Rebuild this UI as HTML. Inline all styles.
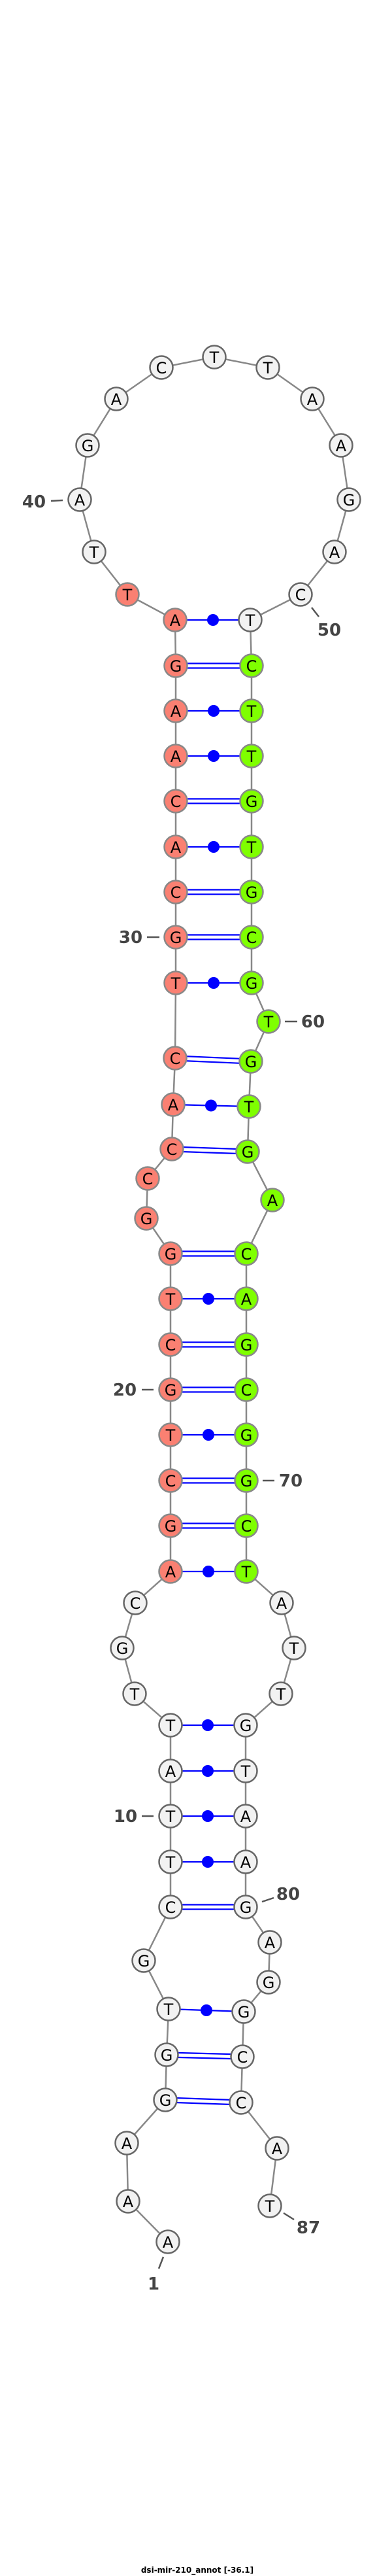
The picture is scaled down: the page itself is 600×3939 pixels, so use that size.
<!DOCTYPE html>
<html><head><meta charset="utf-8"><style>
html,body{margin:0;padding:0;background:#fff}
svg{display:block}
.n{font-family:"DejaVu Sans","Liberation Sans",sans-serif;font-size:24px;text-anchor:middle;fill:#000}
.l{font-family:"DejaVu Sans","Liberation Sans",sans-serif;font-size:26px;font-weight:bold;fill:#444;text-anchor:middle}
</style></head><body>
<svg width="600" height="3939" viewBox="0 0 600 3939" xmlns="http://www.w3.org/2000/svg">
<polyline fill="none" stroke="#888" stroke-width="2.5" points="257,3428 196,3366 194,3277 253,3211 255,3142 258,3072 220,2998 261,2916 261,2847 261,2777 261,2708 261,2638 206,2590 187,2520 207,2451 261,2403 261,2333 261,2264 261,2194 261,2125 261,2056 261,1986 261,1917 224,1863 226,1802 263,1757 265,1689 268,1618 269,1503 269,1433 269,1364 269,1295 269,1225 269,1156 269,1087 269,1018 268,948 195,909 144,844 122,764 134,681 178,610 247,562 328,546 410,562 478,610 522,681 534,764 512,844 460,909 383,948 385,1018 385,1087 385,1156 385,1225 385,1295 385,1364 385,1433 385,1503 411,1562 384,1623 381,1692 379,1761 417,1835 377,1917 377,1986 377,2056 377,2125 377,2194 377,2264 377,2333 377,2403 431,2451 450,2520 430,2590 376,2638 376,2708 376,2777 376,2847 376,2916 413,2970 411,3031 373,3076 371,3145 369,3215 424,3285 413,3373"/>
<g stroke="#0000ff" stroke-width="2.2" fill="#0000ff">
<line x1="268" y1="948" x2="383" y2="948"/><circle cx="326" cy="948" r="9" stroke="none"/>
<line x1="269" y1="1014.5" x2="385" y2="1014.5"/><line x1="269" y1="1021.5" x2="385" y2="1021.5"/>
<line x1="269" y1="1087" x2="385" y2="1087"/><circle cx="327" cy="1087" r="9" stroke="none"/>
<line x1="269" y1="1156" x2="385" y2="1156"/><circle cx="327" cy="1156" r="9" stroke="none"/>
<line x1="269" y1="1221.5" x2="385" y2="1221.5"/><line x1="269" y1="1228.5" x2="385" y2="1228.5"/>
<line x1="269" y1="1295" x2="385" y2="1295"/><circle cx="327" cy="1295" r="9" stroke="none"/>
<line x1="269" y1="1360.5" x2="385" y2="1360.5"/><line x1="269" y1="1367.5" x2="385" y2="1367.5"/>
<line x1="269" y1="1429.5" x2="385" y2="1429.5"/><line x1="269" y1="1436.5" x2="385" y2="1436.5"/>
<line x1="269" y1="1503" x2="385" y2="1503"/><circle cx="327" cy="1503" r="9" stroke="none"/>
<line x1="268" y1="1614.5" x2="384" y2="1619.5"/><line x1="268" y1="1621.5" x2="384" y2="1626.5"/>
<line x1="265" y1="1689" x2="381" y2="1692"/><circle cx="323" cy="1690.5" r="9" stroke="none"/>
<line x1="263" y1="1753.5" x2="379" y2="1757.5"/><line x1="263" y1="1760.5" x2="379" y2="1764.5"/>
<line x1="261" y1="1913.5" x2="377" y2="1913.5"/><line x1="261" y1="1920.5" x2="377" y2="1920.5"/>
<line x1="261" y1="1986" x2="377" y2="1986"/><circle cx="319" cy="1986" r="9" stroke="none"/>
<line x1="261" y1="2052.5" x2="377" y2="2052.5"/><line x1="261" y1="2059.5" x2="377" y2="2059.5"/>
<line x1="261" y1="2121.5" x2="377" y2="2121.5"/><line x1="261" y1="2128.5" x2="377" y2="2128.5"/>
<line x1="261" y1="2194" x2="377" y2="2194"/><circle cx="319" cy="2194" r="9" stroke="none"/>
<line x1="261" y1="2260.5" x2="377" y2="2260.5"/><line x1="261" y1="2267.5" x2="377" y2="2267.5"/>
<line x1="261" y1="2329.5" x2="377" y2="2329.5"/><line x1="261" y1="2336.5" x2="377" y2="2336.5"/>
<line x1="261" y1="2403" x2="377" y2="2403"/><circle cx="319" cy="2403" r="9" stroke="none"/>
<line x1="261" y1="2638" x2="376" y2="2638"/><circle cx="318" cy="2638" r="9" stroke="none"/>
<line x1="261" y1="2708" x2="376" y2="2708"/><circle cx="318" cy="2708" r="9" stroke="none"/>
<line x1="261" y1="2777" x2="376" y2="2777"/><circle cx="318" cy="2777" r="9" stroke="none"/>
<line x1="261" y1="2847" x2="376" y2="2847"/><circle cx="318" cy="2847" r="9" stroke="none"/>
<line x1="261" y1="2912.5" x2="376" y2="2912.5"/><line x1="261" y1="2919.5" x2="376" y2="2919.5"/>
<line x1="258" y1="3072" x2="373" y2="3076"/><circle cx="316" cy="3074" r="9" stroke="none"/>
<line x1="255" y1="3138.5" x2="371" y2="3141.5"/><line x1="255" y1="3145.5" x2="371" y2="3148.5"/>
<line x1="253" y1="3207.5" x2="369" y2="3211.5"/><line x1="253" y1="3214.5" x2="369" y2="3218.5"/>
</g>
<g stroke="#555" stroke-width="2.5">
<line x1="78" y1="766" x2="96" y2="765"/>
<line x1="477" y1="929" x2="488" y2="943"/>
<line x1="225" y1="1433" x2="244" y2="1433"/>
<line x1="436" y1="1562" x2="455" y2="1562"/>
<line x1="217" y1="2125" x2="235" y2="2125"/>
<line x1="402" y1="2264" x2="420" y2="2264"/>
<line x1="217" y1="2777" x2="235" y2="2777"/>
<line x1="401" y1="2908" x2="419" y2="2902"/>
<line x1="250" y1="3451" x2="243" y2="3469"/>
<line x1="434" y1="3384" x2="450" y2="3394"/>
</g>
<g class="l">
<text x="52" y="776">40</text>
<text x="504" y="972">50</text>
<text x="200" y="1442">30</text>
<text x="479" y="1571">60</text>
<text x="191" y="2134">20</text>
<text x="445" y="2273">70</text>
<text x="192" y="2786">10</text>
<text x="441" y="2905">80</text>
<text x="235" y="3501">1</text>
<text x="472" y="3415">87</text>
</g>
<g stroke-width="2.5">
<g fill="#f2f2f2" stroke="#666">
<circle cx="257" cy="3428" r="17.5"/><circle cx="196" cy="3366" r="17.5"/><circle cx="194" cy="3277" r="17.5"/><circle cx="253" cy="3211" r="17.5"/><circle cx="255" cy="3142" r="17.5"/><circle cx="258" cy="3072" r="17.5"/><circle cx="220" cy="2998" r="17.5"/><circle cx="261" cy="2916" r="17.5"/><circle cx="261" cy="2847" r="17.5"/><circle cx="261" cy="2777" r="17.5"/><circle cx="261" cy="2708" r="17.5"/><circle cx="261" cy="2638" r="17.5"/><circle cx="206" cy="2590" r="17.5"/><circle cx="187" cy="2520" r="17.5"/><circle cx="207" cy="2451" r="17.5"/>
<circle cx="144" cy="844" r="17.5"/><circle cx="122" cy="764" r="17.5"/><circle cx="134" cy="681" r="17.5"/><circle cx="178" cy="610" r="17.5"/><circle cx="247" cy="562" r="17.5"/><circle cx="328" cy="546" r="17.5"/><circle cx="410" cy="562" r="17.5"/><circle cx="478" cy="610" r="17.5"/><circle cx="522" cy="681" r="17.5"/><circle cx="534" cy="764" r="17.5"/><circle cx="512" cy="844" r="17.5"/><circle cx="460" cy="909" r="17.5"/><circle cx="383" cy="948" r="17.5"/>
<circle cx="431" cy="2451" r="17.5"/><circle cx="450" cy="2520" r="17.5"/><circle cx="430" cy="2590" r="17.5"/><circle cx="376" cy="2638" r="17.5"/><circle cx="376" cy="2708" r="17.5"/><circle cx="376" cy="2777" r="17.5"/><circle cx="376" cy="2847" r="17.5"/><circle cx="376" cy="2916" r="17.5"/><circle cx="413" cy="2970" r="17.5"/><circle cx="411" cy="3031" r="17.5"/><circle cx="373" cy="3076" r="17.5"/><circle cx="371" cy="3145" r="17.5"/><circle cx="369" cy="3215" r="17.5"/><circle cx="424" cy="3285" r="17.5"/><circle cx="413" cy="3373" r="17.5"/>
</g>
<g fill="#fa8072" stroke="#888">
<circle cx="261" cy="2403" r="17.5"/><circle cx="261" cy="2333" r="17.5"/><circle cx="261" cy="2264" r="17.5"/><circle cx="261" cy="2194" r="17.5"/><circle cx="261" cy="2125" r="17.5"/><circle cx="261" cy="2056" r="17.5"/><circle cx="261" cy="1986" r="17.5"/><circle cx="261" cy="1917" r="17.5"/><circle cx="224" cy="1863" r="17.5"/><circle cx="226" cy="1802" r="17.5"/><circle cx="263" cy="1757" r="17.5"/><circle cx="265" cy="1689" r="17.5"/><circle cx="268" cy="1618" r="17.5"/><circle cx="269" cy="1503" r="17.5"/><circle cx="269" cy="1433" r="17.5"/><circle cx="269" cy="1364" r="17.5"/><circle cx="269" cy="1295" r="17.5"/><circle cx="269" cy="1225" r="17.5"/><circle cx="269" cy="1156" r="17.5"/><circle cx="269" cy="1087" r="17.5"/><circle cx="269" cy="1018" r="17.5"/><circle cx="268" cy="948" r="17.5"/><circle cx="195" cy="909" r="17.5"/>
</g>
<g fill="#7fff00" stroke="#888">
<circle cx="385" cy="1018" r="17.5"/><circle cx="385" cy="1087" r="17.5"/><circle cx="385" cy="1156" r="17.5"/><circle cx="385" cy="1225" r="17.5"/><circle cx="385" cy="1295" r="17.5"/><circle cx="385" cy="1364" r="17.5"/><circle cx="385" cy="1433" r="17.5"/><circle cx="385" cy="1503" r="17.5"/><circle cx="411" cy="1562" r="17.5"/><circle cx="384" cy="1623" r="17.5"/><circle cx="381" cy="1692" r="17.5"/><circle cx="379" cy="1761" r="17.5"/><circle cx="417" cy="1835" r="17.5"/><circle cx="377" cy="1917" r="17.5"/><circle cx="377" cy="1986" r="17.5"/><circle cx="377" cy="2056" r="17.5"/><circle cx="377" cy="2125" r="17.5"/><circle cx="377" cy="2194" r="17.5"/><circle cx="377" cy="2264" r="17.5"/><circle cx="377" cy="2333" r="17.5"/><circle cx="377" cy="2403" r="17.5"/>
</g>
</g>
<g class="n">
<text x="257" y="3437">A</text><text x="196" y="3375">A</text><text x="194" y="3286">A</text><text x="253" y="3220">G</text><text x="255" y="3151">G</text><text x="258" y="3081">T</text><text x="220" y="3007">G</text><text x="261" y="2925">C</text><text x="261" y="2856">T</text><text x="261" y="2786">T</text><text x="261" y="2717">A</text><text x="261" y="2647">T</text><text x="206" y="2599">T</text><text x="187" y="2529">G</text><text x="207" y="2460">C</text>
<text x="261" y="2412">A</text><text x="261" y="2342">G</text><text x="261" y="2273">C</text><text x="261" y="2203">T</text><text x="261" y="2134">G</text><text x="261" y="2065">C</text><text x="261" y="1995">T</text><text x="261" y="1926">G</text><text x="224" y="1872">G</text><text x="226" y="1811">C</text><text x="263" y="1766">C</text><text x="265" y="1698">A</text><text x="268" y="1627">C</text><text x="269" y="1512">T</text><text x="269" y="1442">G</text><text x="269" y="1373">C</text><text x="269" y="1304">A</text><text x="269" y="1234">C</text><text x="269" y="1165">A</text><text x="269" y="1096">A</text><text x="269" y="1027">G</text><text x="268" y="957">A</text><text x="195" y="918">T</text>
<text x="144" y="853">T</text><text x="122" y="773">A</text><text x="134" y="690">G</text><text x="178" y="619">A</text><text x="247" y="571">C</text><text x="328" y="555">T</text><text x="410" y="571">T</text><text x="478" y="619">A</text><text x="522" y="690">A</text><text x="534" y="773">G</text><text x="512" y="853">A</text><text x="460" y="918">C</text><text x="383" y="957">T</text>
<text x="385" y="1027">C</text><text x="385" y="1096">T</text><text x="385" y="1165">T</text><text x="385" y="1234">G</text><text x="385" y="1304">T</text><text x="385" y="1373">G</text><text x="385" y="1442">C</text><text x="385" y="1512">G</text><text x="411" y="1571">T</text><text x="384" y="1632">G</text><text x="381" y="1701">T</text><text x="379" y="1770">G</text><text x="417" y="1844">A</text><text x="377" y="1926">C</text><text x="377" y="1995">A</text><text x="377" y="2065">G</text><text x="377" y="2134">C</text><text x="377" y="2203">G</text><text x="377" y="2273">G</text><text x="377" y="2342">C</text><text x="377" y="2412">T</text>
<text x="431" y="2460">A</text><text x="450" y="2529">T</text><text x="430" y="2599">T</text><text x="376" y="2647">G</text><text x="376" y="2717">T</text><text x="376" y="2786">A</text><text x="376" y="2856">A</text><text x="376" y="2925">G</text><text x="413" y="2979">A</text><text x="411" y="3040">G</text><text x="373" y="3085">G</text><text x="371" y="3154">C</text><text x="369" y="3224">C</text><text x="424" y="3294">A</text><text x="413" y="3382">T</text>
</g>
<text x="302" y="3934" style="font-family:'DejaVu Sans','Liberation Sans',sans-serif;font-size:12px;font-weight:bold;fill:#000;text-anchor:middle">dsi-mir-210_annot [-36.1]</text>
</svg>
</body></html>
